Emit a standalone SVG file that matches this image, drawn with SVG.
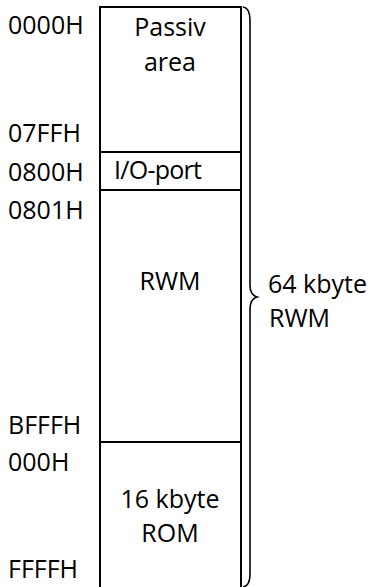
<svg xmlns="http://www.w3.org/2000/svg" width="372" height="587" viewBox="0 0 372 587">
<style>
text{font-family:"Open Sans","Liberation Sans",sans-serif;font-size:25px;fill:#000}
.c{text-anchor:middle}
.box{fill:none;stroke:#000;stroke-width:2}
.brace{fill:none;stroke:#000;stroke-width:1.6}
</style>
<rect width="372" height="587" fill="#fff"/>
<g id="addresses">
<text x="8" y="34">0000H</text>
<text x="8" y="142">07FFH</text>
<text x="8" y="181">0800H</text>
<text x="8" y="219">0801H</text>
<text x="8" y="434">BFFFH</text>
<text x="8" y="471">000H</text>
<text x="8" y="578">FFFFH</text>
</g>
<g id="passiv">
<rect class="box" x="100" y="7" width="141" height="145"/>
<text class="c" x="170" y="36">Passiv</text>
<text class="c" x="170" y="71">area</text>
</g>
<g id="io">
<rect class="box" x="100" y="152" width="141" height="38"/>
<text x="114" y="179" textLength="88">I/O-port</text>
</g>
<g id="rwm">
<rect class="box" x="100" y="190" width="141" height="252"/>
<text class="c" x="170" y="290">RWM</text>
</g>
<g id="rom">
<rect class="box" x="100" y="442" width="141" height="150"/>
<text class="c" x="170" y="508">16 kbyte</text>
<text class="c" x="170" y="542">ROM</text>
</g>
<g id="connectors">
<path class="brace" d="M243,7 Q250,8 250,20 L250,285 Q250,295 257,297 Q250,299 250,309 L250,574 Q250,586 243,587"/>
</g>
<g id="total">
<text x="268" y="293">64 kbyte</text>
<text x="269" y="327">RWM</text>
</g>
</svg>
